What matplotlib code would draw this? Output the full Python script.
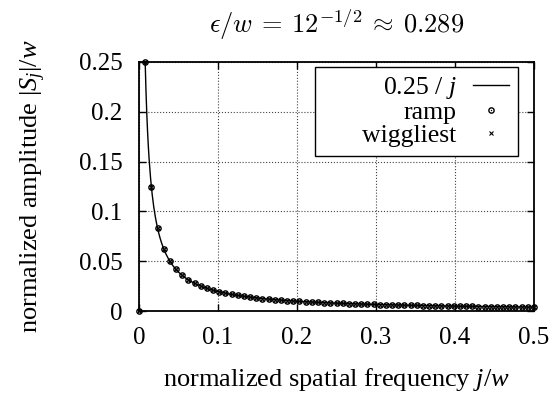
import numpy as np
from matplotlib import pyplot as plt

plt.rcParams['font.family'] = 'Liberation Serif'
plt.rcParams['mathtext.fontset'] = 'custom'
plt.rcParams['mathtext.rm'] = 'Liberation Serif'
plt.rcParams['mathtext.it'] = 'Liberation Serif:italic'

w = 128
j = np.arange(0, 65)

# amplitudes (j = 0..64)
ramp = [0, 0.25, 0.125, 0.0833, 0.0625, 0.05, 0.0417, 0.0357, 0.0313, 0.0278,
        0.025, 0.0227, 0.0208, 0.0192, 0.0179, 0.0167, 0.0156, 0.0147, 0.0139,
        0.0132, 0.0125, 0.0119, 0.0114, 0.0109, 0.0104, 0.01, 0.0096, 0.0093,
        0.0089, 0.0086, 0.0083, 0.0081, 0.0078, 0.0076, 0.0074, 0.0071, 0.0069,
        0.0068, 0.0066, 0.0064, 0.0063, 0.0061, 0.006, 0.0058, 0.0057, 0.0056,
        0.0054, 0.0053, 0.0052, 0.0051, 0.005, 0.0049, 0.0048, 0.0047, 0.0046,
        0.0045, 0.0045, 0.0044, 0.0043, 0.0042, 0.0042, 0.0041, 0.004, 0.004,
        0.0039]
wiggliest = list(ramp)

xticks = [0, 0.1, 0.2, 0.3, 0.4, 0.5]
xticklabels = ['0', '0.1', '0.2', '0.3', '0.4', '0.5']
yticks = [0, 0.05, 0.1, 0.15, 0.2, 0.25]
yticklabels = ['0', '0.05', '0.1', '0.15', '0.2', '0.25']

fig = plt.figure(figsize=(5.53, 3.94), dpi=100)
ax = fig.add_axes([139/553, 1 - 311/394, 395/553, 249/394])

jc = np.linspace(1, 64, 500)
curve, = ax.plot(jc / w, 0.25 / jc, color='black', lw=1.0)
circ, = ax.plot(j / w, ramp, ls='none', marker='o', ms=3.8, mew=1.0,
                mfc='none', color='black', clip_on=False)
dot, = ax.plot(j / w, ramp, ls='none', marker='o', ms=1.0, mew=0,
               color='black', clip_on=False)
cross, = ax.plot(j / w, wiggliest, ls='none', marker='x', ms=3.0, mew=0.8,
                 color='black', clip_on=False)

ax.set_xlim(0, 0.5)
ax.set_ylim(0, 0.25)
ax.set_xticks(xticks)
ax.set_xticklabels(xticklabels)
ax.set_yticks(yticks)
ax.set_yticklabels(yticklabels)
ax.tick_params(direction='in', top=True, right=True, length=5, width=1,
               labelsize=18)
ax.tick_params(axis='x', pad=11.5)
ax.tick_params(axis='y', pad=12)
ax.grid(True, ls=':', color='#444444', lw=0.8)
for s in ax.spines.values():
    s.set_linewidth(1.3)

ax.set_xlabel(r'normalized spatial frequency $j/w$', fontsize=19, labelpad=12)
ax.set_ylabel(r'normalized amplitude $|S_j|/w$', fontsize=19, labelpad=22)
ax.set_title(r'$\epsilon/w \:=\: 12^{-1/2} \:\approx\: 0.289$', fontsize=19,
             math_fontfamily='cm', pad=21)

# gnuplot-style key: text right-aligned, sample on the right, wide left margin
leg = ax.legend([curve, (circ, dot), cross],
                [r'0.25 / $j$', 'ramp', '      wiggliest'],
                loc='upper right', bbox_to_anchor=(0.959, 0.98),
                borderaxespad=0, fontsize=18.5, markerfirst=False,
                fancybox=False, edgecolor='black', framealpha=1,
                handlelength=1.4, labelspacing=0.0, borderpad=0.33,
                handletextpad=0.66)
leg.get_frame().set_linewidth(1.0)
for col in leg._legend_handle_box.get_children():
    col.align = 'right'

fig.savefig('out.png', dpi=100)
